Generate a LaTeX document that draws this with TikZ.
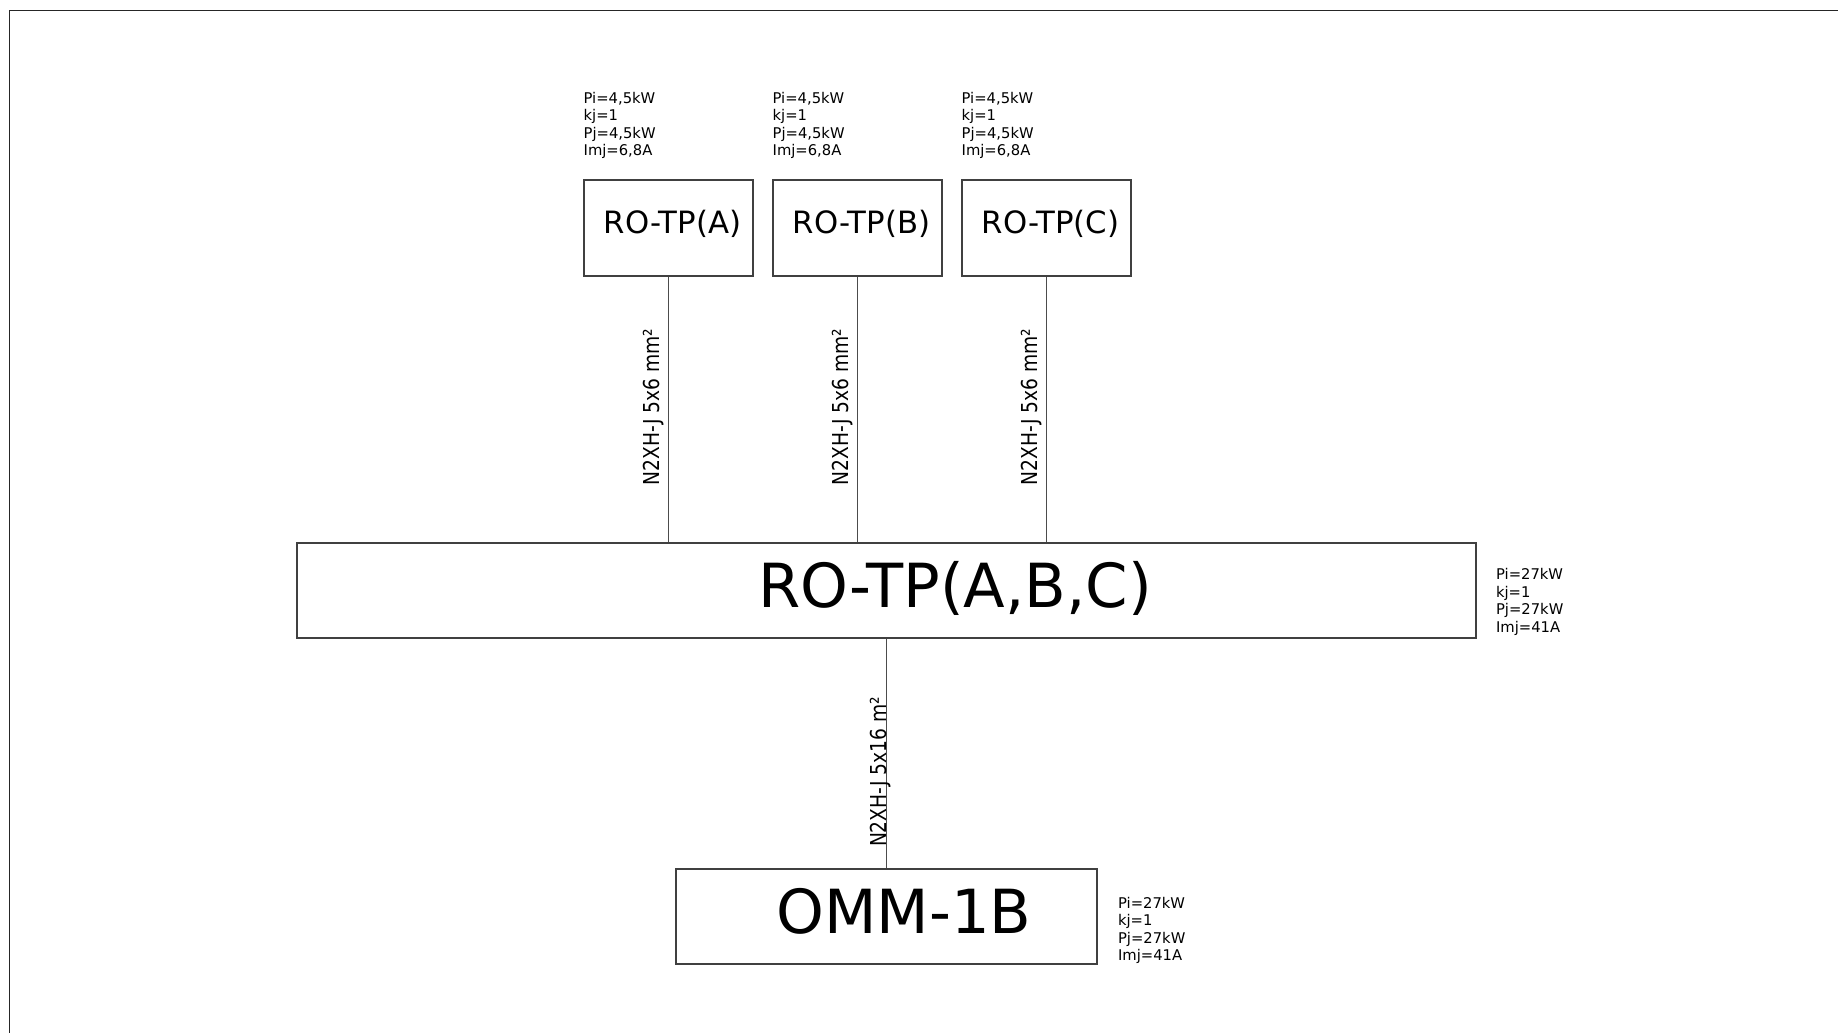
\documentclass[tikz,border=0pt]{standalone}
\usepackage{fontspec}
\setmainfont{DejaVu Sans}
\newfontfamily\cablefont{DejaVu Sans}[FakeStretch=0.85]
\usetikzlibrary{positioning}
\tikzset{
    node distance=3.78cm, % spacing of the three sub-boards
    panel/.style={draw=black!75, line width=0.8pt, minimum height=1.9cm, inner sep=0pt}, % every board box
    subpanel/.style={panel, minimum width=3.38cm, minimum height=1.92cm},
    boxtext/.style={font=\fontsize{17.5}{21}\selectfont, xshift=0.08cm, yshift=0.08cm},
    bigtext/.style={font=\fontsize{34.6}{40}\selectfont},
    info/.style={align=left, inner sep=0pt, font=\fontsize{8.4}{10}\selectfont}, % load data
    cable/.style={rotate=90, font=\cablefont\fontsize{12.5}{14}\selectfont},
    wire/.style={draw=black!70, line width=0.7pt},
}

\begin{document}
\begin{tikzpicture}
    \useasboundingbox (0,0) rectangle (36.76,-20.66);
    % sheet frame
    \draw[line width=1.1pt, black!85] (0.19,-20.66) |- (36.76,-0.21);

    % sub-boards
    \node[subpanel, label={[boxtext]center:RO-TP(A)}] (ra) at (13.37,-4.56) {};
    \node[subpanel, right of=ra, label={[boxtext]center:RO-TP(B)}] (rb) {};
    \node[subpanel, right of=rb, label={[boxtext]center:RO-TP(C)}] (rc) {};

    % main boards
    \node[panel, minimum width=23.58cm, label={[bigtext, xshift=1.37cm, yshift=0.05cm]center:RO-TP(A,B,C)}] (rabc) at (17.73,-11.81) {};
    \node[panel, minimum width=8.42cm, node distance=6.52cm, below of=rabc, label={[bigtext, xshift=0.35cm, yshift=0.11cm]center:OMM-1B}] (omm) {};

    % load data
    \node[info, above right=0.4cm and 0cm of ra.north west] (ia) {Pi=4,5kW\\kj=1\\Pj=4,5kW\\Imj=6,8A};
    \node[info, above right=0.4cm and 0cm of rb.north west] (ib) {Pi=4,5kW\\kj=1\\Pj=4,5kW\\Imj=6,8A};
    \node[info, above right=0.4cm and 0cm of rc.north west] (ic) {Pi=4,5kW\\kj=1\\Pj=4,5kW\\Imj=6,8A};
    \node[info, above right=0.06cm and 0.38cm of rabc.south east] (iabc) {Pi=27kW\\kj=1\\Pj=27kW\\Imj=41A};
    \node[info, above right=0.01cm and 0.4cm of omm.south east] (iomm) {Pi=27kW\\kj=1\\Pj=27kW\\Imj=41A};

    % cables
    \draw[wire] (ra) -- (ra |- rabc.north) node[cable, pos=0.49, anchor=south, inner sep=2.5pt] {N2XH-J 5x6 mm²};
    \draw[wire] (rb) -- (rb |- rabc.north) node[cable, pos=0.49, anchor=south, inner sep=2.5pt] {N2XH-J 5x6 mm²};
    \draw[wire] (rc) -- (rc |- rabc.north) node[cable, pos=0.49, anchor=south, inner sep=2.5pt] {N2XH-J 5x6 mm²};
    \draw[wire] (rabc) -- (omm) node[cable, pos=0.58, anchor=base] {N2XH-J 5x16 m²};
\end{tikzpicture}
\end{document}
